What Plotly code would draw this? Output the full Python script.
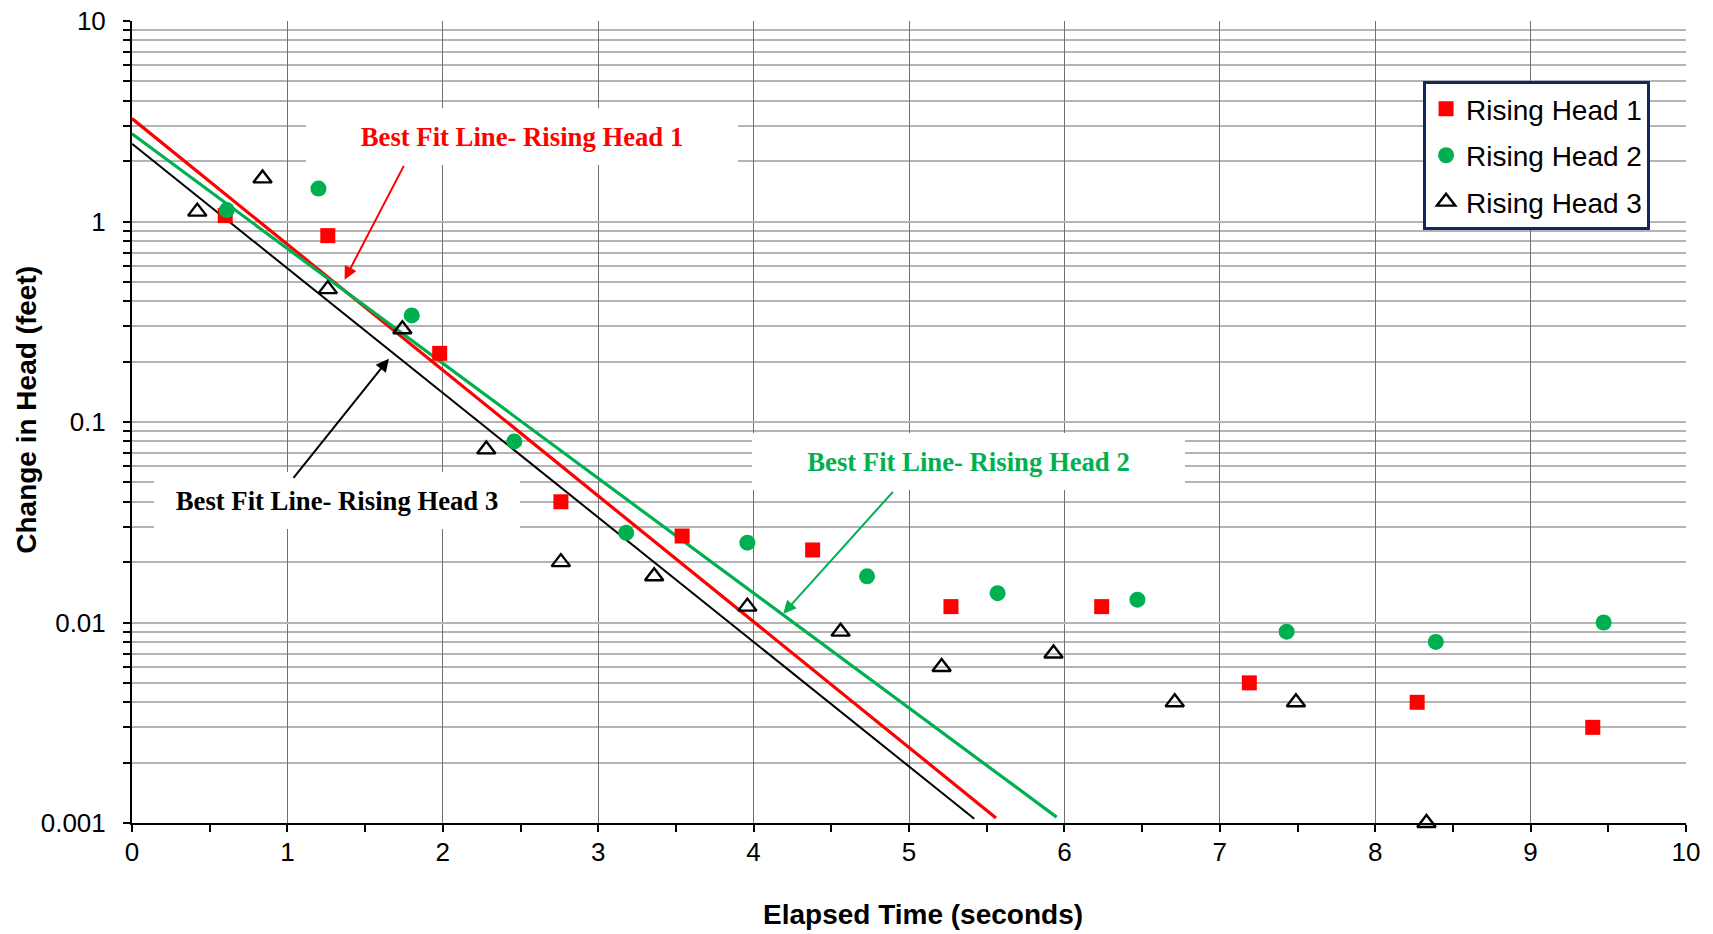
import plotly.graph_objects as go

# Elapsed time (s) and change in head (ft) for the three rising-head tests
t_rh1 = [0.60, 1.26, 1.98, 2.76, 3.54, 4.38, 5.27, 6.24, 7.19, 8.27, 9.40]
h_rh1 = [1.07, 0.85, 0.22, 0.040, 0.027, 0.023, 0.012, 0.012, 0.005, 0.004, 0.003]

t_rh2 = [0.61, 1.20, 1.80, 2.46, 3.18, 3.96, 4.73, 5.57, 6.47, 7.43, 8.39, 9.47]
h_rh2 = [1.14, 1.46, 0.34, 0.080, 0.028, 0.025, 0.017, 0.014, 0.013, 0.009, 0.008, 0.010]

t_rh3 = [0.42, 0.84, 1.26, 1.74, 2.28, 2.76, 3.36, 3.96, 4.56, 5.21, 5.93, 6.71, 7.49, 8.33]
h_rh3 = [1.12, 1.64, 0.46, 0.29, 0.073, 0.020, 0.017, 0.012, 0.009, 0.006, 0.007, 0.004, 0.004, 0.001]

# Best fit lines (straight on the semi-log plot), start and end points
fit_t1 = [0.0, 5.56]
fit_h1 = [3.26, 0.00106]
fit_t2 = [0.0, 5.95]
fit_h2 = [2.74, 0.00107]
fit_t3 = [0.0, 5.42]
fit_h3 = [2.44, 0.00105]

series_names = ["Rising Head 1", "Rising Head 2", "Rising Head 3"]
fit_labels = ["Best Fit Line- Rising Head 1",
              "Best Fit Line- Rising Head 2",
              "Best Fit Line- Rising Head 3"]
x_title = "Elapsed Time (seconds)"
y_title = "Change in Head (feet)"

y_major = [0.001, 0.01, 0.1, 1, 10]
y_major_text = ["0.001", "0.01", "0.1", "1", "10"]
y_minor = [m * 10.0 ** d for d in range(-3, 1) for m in range(2, 10)]

RED = "#FF0000"
GREEN = "#00B050"
BLACK = "#000000"
SANS = "Liberation Sans, Arial, sans-serif"
SERIF = "Liberation Serif, Times New Roman, serif"

fig = go.Figure()

# fit lines
for ft, fh, col, w in [(fit_t3, fit_h3, BLACK, 2), (fit_t1, fit_h1, RED, 3.2),
                       (fit_t2, fit_h2, GREEN, 3.2)]:
    fig.add_trace(go.Scatter(x=ft, y=fh, mode="lines", line=dict(color=col, width=w),
                             showlegend=False, hoverinfo="skip"))

# measured points
fig.add_trace(go.Scatter(x=t_rh1, y=h_rh1, mode="markers", name=series_names[0],
                         legendgroup="g1", cliponaxis=False,
                         marker=dict(symbol="square", size=15, color=RED)))
fig.add_trace(go.Scatter(x=t_rh2, y=h_rh2, mode="markers", name=series_names[1],
                         legendgroup="g2", cliponaxis=False,
                         marker=dict(symbol="circle", size=16, color=GREEN)))
fig.add_trace(go.Scatter(x=t_rh3, y=h_rh3, mode="markers", name=series_names[2],
                         legendgroup="g3", cliponaxis=False,
                         marker=dict(symbol="triangle-up-open", size=16, color=BLACK,
                                     line=dict(width=2.4, color=BLACK))))

# labels for the fit lines, with arrows pointing to each line
labels = [
    # text, colour, label centre (x, log10 y), box width, arrow head, arrow tail
    (fit_labels[0], RED, (2.512, 0.4224), 420, (1.368, -0.290), (1.754, 0.285)),
    (fit_labels[1], GREEN, (5.384, -1.196), 421, (4.191, -1.956), (4.905, -1.341)),
    (fit_labels[2], BLACK, (1.316, -1.393), 354, (1.653, -0.684), (1.0315, -1.286)),
]
for text, col, (lx, ly), bw, (hx, hy), (tx, ty) in labels:
    fig.add_annotation(x=lx, y=ly, xref="x", yref="y", text=text, showarrow=False,
                       font=dict(family=SERIF, size=26.7, color=col, weight="bold"),
                       bgcolor="white", width=bw, height=45, borderpad=6,
                       borderwidth=0, align="center", valign="middle")
    fig.add_annotation(x=hx, y=hy, xref="x", yref="y", ax=tx, ay=ty,
                       axref="x", ayref="y", text="", showarrow=True,
                       arrowhead=2, arrowsize=1.3, arrowwidth=2, arrowcolor=col)

# axis titles
fig.add_annotation(x=0.509, y=-0.1147, xref="paper", yref="paper", text=x_title,
                   showarrow=False, xanchor="center", yanchor="middle",
                   font=dict(family=SANS, size=28, color=BLACK, weight="bold"))
fig.add_annotation(x=-0.0677, y=0.515, xref="paper", yref="paper", text=y_title,
                   showarrow=False, xanchor="center", yanchor="middle", textangle=-90,
                   font=dict(family=SANS, size=28, color=BLACK, weight="bold"))

fig.update_layout(
    width=1713, height=934,
    margin=dict(l=132, r=27, t=21, b=111),
    paper_bgcolor="white", plot_bgcolor="white",
    font=dict(family=SANS, color=BLACK),
    showlegend=True,
    legend=dict(x=0.8308, y=0.925, xanchor="left", yanchor="top",
                bgcolor="white", bordercolor="#13275A", borderwidth=3,
                font=dict(family=SANS, size=28, color=BLACK),
                traceorder="grouped", tracegroupgap=7),
)

fig.update_xaxes(
    range=[0, 10], dtick=1, tick0=0, automargin=False,
    showgrid=True, gridcolor="#707070", gridwidth=1,
    showline=True, linecolor=BLACK, linewidth=2,
    ticks="outside", ticklen=7, tickwidth=1.5, tickcolor=BLACK,
    tickfont=dict(family=SANS, size=26, color=BLACK),
    ticklabelstandoff=-2,
    minor=dict(dtick=0.5, ticks="outside", ticklen=7, tickwidth=1.5,
               tickcolor=BLACK, showgrid=False),
    zeroline=False,
)

fig.update_yaxes(
    type="log", range=[-3, 1], automargin=False,
    tickvals=y_major, ticktext=y_major_text,
    showgrid=True, gridcolor="#B4B4B4", gridwidth=2,
    showline=True, linecolor=BLACK, linewidth=2,
    ticks="outside", ticklen=7, tickwidth=1.5, tickcolor=BLACK,
    tickfont=dict(family=SANS, size=26, color=BLACK),
    ticklabelstandoff=12,
    minor=dict(tickvals=y_minor, ticks="outside", ticklen=7, tickwidth=1.5,
               tickcolor=BLACK, showgrid=True, gridcolor="#B4B4B4", gridwidth=2),
    zeroline=False,
)

fig.write_html("out.html")
